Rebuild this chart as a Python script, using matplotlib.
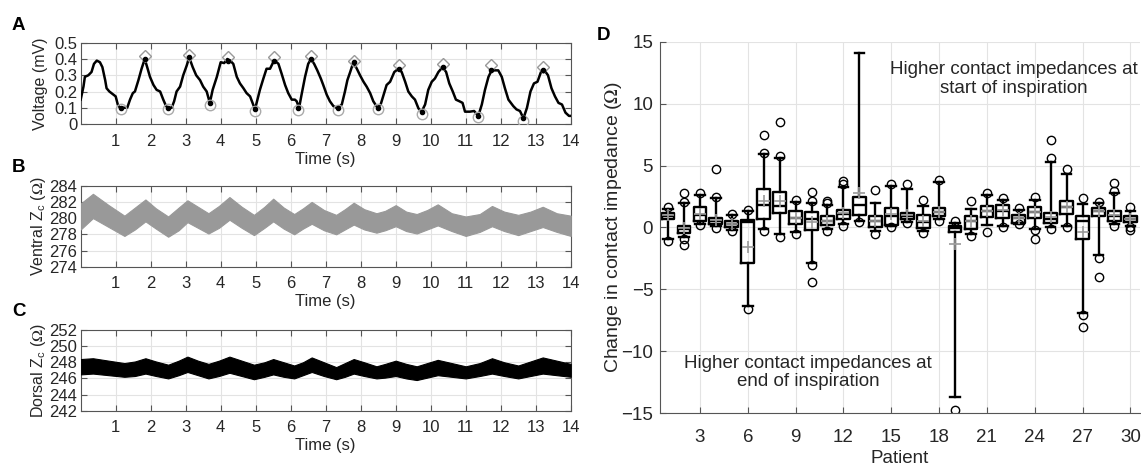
import matplotlib.pyplot as plt

plt.rcParams['font.family'] = ['Liberation Sans', 'DejaVu Sans']
plt.rcParams['mathtext.fontset'] = 'stix'

# ---- panel A: ECG-derived voltage (mV) ----
time_a = [0, 0.08, 0.12, 0.22, 0.31, 0.38, 0.46, 0.55, 0.62, 0.7,
          0.74, 0.82, 0.91, 1.0, 1.06, 1.12, 1.22, 1.33, 1.41, 1.49,
          1.55, 1.65, 1.74, 1.83, 1.9, 1.98, 2.08, 2.17, 2.27, 2.36,
          2.44, 2.5, 2.6, 2.67, 2.74, 2.84, 2.93, 3.03, 3.1, 3.2,
          3.3, 3.41, 3.5, 3.6, 3.69, 3.77, 3.89, 4.0, 4.1, 4.19,
          4.27, 4.36, 4.46, 4.55, 4.65, 4.74, 4.84, 4.91, 4.98, 5.05,
          5.12, 5.22, 5.31, 5.41, 5.5, 5.55, 5.65, 5.74, 5.84, 5.93,
          6.03, 6.12, 6.17, 6.24, 6.31, 6.41, 6.5, 6.58, 6.67, 6.76,
          6.86, 6.93, 7.03, 7.12, 7.22, 7.34, 7.46, 7.55, 7.62, 7.7,
          7.79, 7.89, 7.98, 8.08, 8.17, 8.27, 8.36, 8.48, 8.57, 8.67,
          8.74, 8.84, 8.96, 9.08, 9.17, 9.27, 9.36, 9.46, 9.55, 9.65,
          9.74, 9.84, 9.93, 10.03, 10.12, 10.22, 10.34, 10.44, 10.53, 10.63,
          10.72, 10.82, 10.91, 10.98, 11.12, 11.24, 11.36, 11.46, 11.55, 11.65,
          11.74, 11.83, 11.93, 12.03, 12.12, 12.22, 12.36, 12.45, 12.55, 12.65,
          12.75, 12.85, 12.95, 13.05, 13.15, 13.25, 13.35, 13.45, 13.55, 13.65,
          13.75, 13.85, 13.95, 14.0]
volt_a = [0.15, 0.23, 0.29, 0.30, 0.32, 0.37, 0.39, 0.38, 0.35, 0.27,
          0.22, 0.20, 0.185, 0.17, 0.12, 0.10, 0.10, 0.10, 0.15, 0.19,
          0.20, 0.27, 0.34, 0.40, 0.35, 0.29, 0.24, 0.21, 0.20, 0.15,
          0.11, 0.10, 0.10, 0.14, 0.20, 0.23, 0.30, 0.36, 0.41, 0.35,
          0.30, 0.27, 0.23, 0.20, 0.13, 0.21, 0.29, 0.38, 0.375, 0.40,
          0.39, 0.37, 0.29, 0.25, 0.22, 0.19, 0.17, 0.13, 0.09, 0.15,
          0.21, 0.28, 0.34, 0.34, 0.38, 0.39, 0.37, 0.31, 0.24, 0.19,
          0.15, 0.15, 0.14, 0.10, 0.18, 0.29, 0.37, 0.40, 0.37, 0.33,
          0.28, 0.24, 0.18, 0.14, 0.11, 0.096, 0.12, 0.20, 0.27, 0.32,
          0.38, 0.34, 0.30, 0.26, 0.23, 0.19, 0.14, 0.10, 0.12, 0.19,
          0.24, 0.26, 0.32, 0.34, 0.32, 0.26, 0.20, 0.17, 0.15, 0.096,
          0.076, 0.12, 0.21, 0.26, 0.28, 0.32, 0.35, 0.32, 0.25, 0.20,
          0.15, 0.14, 0.13, 0.076, 0.076, 0.08, 0.05, 0.12, 0.21, 0.29,
          0.33, 0.33, 0.33, 0.29, 0.22, 0.15, 0.11, 0.09, 0.08, 0.035,
          0.10, 0.20, 0.25, 0.26, 0.32, 0.33, 0.30, 0.22, 0.17, 0.13,
          0.12, 0.07, 0.05, 0.05]

peak_t = [1.83, 3.1, 4.22, 5.53, 6.58, 7.8, 9.08, 10.34, 11.72, 13.22]
peak_mark = [0.42, 0.425, 0.41, 0.41, 0.42, 0.39, 0.36, 0.37, 0.36, 0.35]
peak_dot = [0.40, 0.41, 0.39, 0.39, 0.40, 0.38, 0.34, 0.35, 0.33, 0.33]
trough_t = [1.15, 2.5, 3.69, 4.98, 6.22, 7.34, 8.48, 9.74, 11.36, 12.65]
trough_mark = [0.09, 0.09, 0.12, 0.08, 0.086, 0.086, 0.09, 0.06, 0.045, 0.02]
trough_dot = [0.10, 0.10, 0.13, 0.09, 0.10, 0.096, 0.10, 0.076, 0.05, 0.035]

# ---- panels B, C: contact impedance envelopes (Ohm) ----
time_z = [0, 0.35, 0.8, 1.25, 1.55, 1.85, 2.15, 2.5, 2.8, 3.05,
          3.35, 3.65, 3.95, 4.25, 4.6, 4.95, 5.25, 5.5, 5.8, 6.1,
          6.35, 6.6, 6.95, 7.3, 7.55, 7.8, 8.1, 8.45, 8.7, 9.0,
          9.3, 9.6, 9.9, 10.2, 10.6, 11.0, 11.4, 11.75, 12.1, 12.5,
          12.85, 13.2, 13.6, 14.0]
ventral_hi = [281.8, 283.0, 281.6, 280.3, 281.3, 282.3, 281.2, 280.2, 281.3, 282.2,
              281.4, 280.6, 281.5, 282.6, 281.4, 280.4, 281.4, 282.4, 281.3, 280.5,
              281.2, 282.0, 281.0, 280.4, 281.1, 281.9, 281.1, 280.6, 280.9, 281.6,
              280.8, 280.5, 281.0, 281.7, 280.6, 280.2, 280.5, 281.5, 280.8, 280.4,
              280.8, 281.4, 280.6, 280.3]
ventral_lo = [278.6, 280.0, 278.9, 277.8, 278.6, 279.6, 278.7, 277.7, 278.5, 279.5,
              278.8, 278.1, 278.8, 279.8, 278.8, 277.9, 278.8, 279.6, 278.7, 278.0,
              278.7, 279.3, 278.5, 278.0, 278.6, 279.2, 278.6, 278.2, 278.5, 279.0,
              278.4, 278.1, 278.6, 279.1, 278.4, 277.8, 278.3, 279.0, 278.4, 277.9,
              278.4, 278.9, 278.3, 277.8]
dorsal_hi = [248.4, 248.5, 248.2, 247.9, 248.1, 248.5, 248.1, 247.7, 248.2, 248.7,
             248.2, 247.8, 248.2, 248.7, 248.2, 247.7, 248.0, 248.4, 248.0, 247.6,
             248.0, 248.6, 248.0, 247.4, 247.9, 248.4, 248.0, 247.5, 247.8, 248.2,
             247.8, 247.5, 247.9, 248.3, 247.9, 247.5, 247.9, 248.5, 248.0, 247.6,
             248.1, 248.6, 248.2, 247.8]
dorsal_lo = [246.5, 246.6, 246.4, 246.2, 246.3, 246.6, 246.3, 246.0, 246.4, 246.8,
             246.4, 246.0, 246.3, 246.7, 246.3, 245.9, 246.2, 246.5, 246.2, 246.0,
             246.4, 246.8, 246.3, 245.9, 246.2, 246.6, 246.3, 246.0, 246.1, 246.3,
             246.0, 245.8, 246.1, 246.4, 246.2, 246.0, 246.3, 246.6, 246.3, 246.0,
             246.3, 246.6, 246.4, 246.2]

# ---- panel D: per-patient box statistics (Ohm) ----
patients = list(range(1, 31))
q1 = [0.66, -0.47, 0.55, 0.30, 0.07, -2.85, 0.70, 1.20, 0.30, -0.20,
      0.20, 0.66, 1.00, 0.02, 0.20, 0.70, -0.05, 0.90, -0.35, -0.15,
      0.85, 0.75, 0.40, 0.75, 0.35, 1.05, -0.95, 0.95, 0.55, 0.45]
median = [0.96, -0.15, 1.00, 0.55, 0.30, 0.45, 1.80, 1.70, 0.75, 0.65,
          0.55, 1.10, 1.80, 0.50, 0.90, 0.95, 0.45, 1.25, -0.05, 0.50,
          1.30, 1.30, 0.75, 1.25, 0.70, 1.65, 0.55, 1.35, 0.95, 0.70]
q3 = [1.20, 0.12, 1.65, 0.78, 0.55, 0.58, 3.10, 2.85, 1.30, 1.25,
      0.95, 1.45, 2.45, 0.93, 1.55, 1.20, 1.00, 1.55, 0.12, 0.95,
      1.70, 1.85, 1.00, 1.65, 1.15, 2.10, 0.95, 1.60, 1.30, 0.93]
mean = [1.00, -0.05, 1.10, 0.60, 0.30, -1.55, 2.10, 2.10, 0.80, 0.45,
        0.55, 1.15, 2.75, 0.55, 1.10, 1.00, 0.55, 1.25, -1.30, 0.55,
        1.35, 1.40, 0.80, 1.25, 0.85, 1.65, -0.35, 1.30, 1.00, 0.70]
whisk_lo = [-0.95, -0.80, 0.30, 0.15, -0.20, -6.35, -0.10, -0.50, -0.35, -2.90,
            -0.15, 0.25, 0.55, -0.30, 0.15, 0.45, -0.30, 0.65, -13.70, -0.50,
            0.20, 0.15, 0.30, -0.10, 0.05, 0.10, -6.90, -2.20, 0.25, 0.10]
whisk_hi = [1.50, 1.95, 2.65, 2.35, 0.98, 1.30, 5.90, 5.60, 2.05, 2.00,
            1.80, 3.30, 14.10, 1.95, 3.35, 3.10, 1.70, 3.65, 0.40, 1.50,
            2.65, 2.20, 1.40, 2.25, 5.30, 4.35, 1.90, 1.95, 2.80, 1.30]
outliers = [[1.62, -1.08], [2.05, 2.78, -0.95, -1.40], [2.80, 0.20], [2.50, 4.70, -0.05],
            [1.08, -0.30], [1.42, -6.60], [6.05, 7.47, -0.25], [5.80, 8.55, -0.75],
            [2.20, -0.50], [2.15, 2.85, -3.05, -4.40], [1.95, 2.17, -0.28],
            [3.55, 3.78, 0.15], [0.45], [3.05, -0.50], [3.55, 0.05], [3.50, 0.35],
            [2.20, -0.45], [3.80, 0.55], [0.50, -14.75], [2.10, -0.65], [2.80, -0.35],
            [2.35, 0.02], [1.60, 0.25], [2.50, -0.20, -0.95], [5.60, 7.10, -0.10],
            [4.70, 0.02], [2.35, -7.10, -8.05], [2.08, -2.50, -4.00],
            [2.95, 3.60, 0.15], [1.65, 0.05, -0.20]]

TXT = '#262626'
SPINE = '#555555'
GRID = '#e3e3e3'

fig = plt.figure(figsize=(11.41, 4.68), dpi=100)
axA = fig.add_axes([0.0707, 0.735, 0.4295, 0.1737])
axB = fig.add_axes([0.0707, 0.4301, 0.4295, 0.1731])
axC = fig.add_axes([0.0707, 0.1224, 0.4295, 0.1725])
axD = fig.add_axes([0.5785, 0.1169, 0.4206, 0.794])


def style_trace(ax, ylim, yticks, ylabel):
    ax.set_xlim(0, 14)
    ax.set_ylim(ylim)
    ax.set_xticks(range(1, 15))
    ax.set_yticks(yticks)
    ax.grid(True, color=GRID, linewidth=0.8)
    ax.set_axisbelow(True)
    ax.tick_params(direction='in', top=True, right=True, length=4,
                   color=SPINE, labelcolor=TXT, labelsize=12)
    ax.tick_params(axis='x', pad=7)
    ax.tick_params(axis='y', pad=2.5)
    for s in ax.spines.values():
        s.set_color(SPINE)
    ax.set_xlabel('Time (s)', fontsize=12, color=TXT, labelpad=2)
    ax.set_ylabel(ylabel, fontsize=11.5, color=TXT)
    ax.yaxis.set_label_coords(-0.066, 0.5)


axA.plot(time_a, volt_a, color='black', linewidth=1.8, zorder=3)
axA.plot(peak_t, peak_mark, linestyle='none', marker='D', markersize=6.5,
         markerfacecolor='none', markeredgecolor='#999999', zorder=4)
axA.plot(trough_t, trough_mark, linestyle='none', marker='o', markersize=7.5,
         markerfacecolor='none', markeredgecolor='#aaaaaa', zorder=4)
axA.plot(peak_t + trough_t, peak_dot + trough_dot, linestyle='none', marker='o',
         markersize=3, color='black', zorder=5)
style_trace(axA, (0, 0.5), [0, 0.1, 0.2, 0.3, 0.4, 0.5], 'Voltage (mV)')
axA.set_yticklabels(['0', '0.1', '0.2', '0.3', '0.4', '0.5'])

axB.fill_between(time_z, ventral_lo, ventral_hi, color='#999999', linewidth=0.8,
                 edgecolor='#999999', zorder=3)
style_trace(axB, (274, 284), range(274, 285, 2), r'Ventral Z$_\mathregular{c}$ ($\Omega$)')

axC.fill_between(time_z, dorsal_lo, dorsal_hi, color='black', linewidth=0.8,
                 edgecolor='black', zorder=3)
style_trace(axC, (242, 252), range(242, 253, 2), r'Dorsal Z$_\mathregular{c}$ ($\Omega$)')

# ---- D ----
stats = []
for i in range(len(patients)):
    stats.append(dict(q1=q1[i], med=median[i], q3=q3[i], mean=mean[i],
                      whislo=whisk_lo[i], whishi=whisk_hi[i], fliers=outliers[i]))

lw = 1.7
axD.bxp(stats, positions=patients, widths=0.8, capwidths=0.6, showmeans=True,
        boxprops=dict(color='black', linewidth=lw),
        medianprops=dict(color='black', linewidth=lw),
        whiskerprops=dict(color='black', linewidth=lw),
        capprops=dict(color='black', linewidth=lw),
        flierprops=dict(marker='o', markerfacecolor='none', markeredgecolor='black',
                        markersize=6, markeredgewidth=1.0),
        meanprops=dict(marker='+', markeredgecolor='#999999', markersize=9,
                       markeredgewidth=1.2))
axD.set_xlim(0.5, 30.6)
axD.set_ylim(-15, 15)
axD.set_xticks(range(3, 31, 3))
axD.set_xticklabels([str(p) for p in range(3, 31, 3)])
axD.set_yticks(range(-15, 16, 5))
axD.grid(True, color=GRID, linewidth=0.8)
axD.set_axisbelow(True)
axD.spines['top'].set_visible(False)
axD.spines['right'].set_visible(False)
axD.spines['left'].set_color(SPINE)
axD.spines['bottom'].set_color(SPINE)
axD.tick_params(direction='in', length=4, color=SPINE, labelcolor=TXT, labelsize=13.5)
axD.tick_params(axis='x', pad=11)
axD.tick_params(axis='y', pad=5)
axD.set_xlabel('Patient', fontsize=13.5, color=TXT, labelpad=3)
axD.set_ylabel(r'Change in contact impedance ($\Omega$)', fontsize=14, color=TXT)
axD.yaxis.set_label_coords(-0.075, 0.5)
axD.text(22.7, 12.0, 'Higher contact impedances at\nstart of inspiration',
         ha='center', va='center', fontsize=13.5, color=TXT, linespacing=1.12)
axD.text(9.77, -11.7, 'Higher contact impedances at\nend of inspiration',
         ha='center', va='center', fontsize=13.5, color=TXT, linespacing=1.12)

for letter, x, y in [('A', 12, 25), ('B', 12, 167), ('C', 12, 312), ('D', 597, 36)]:
    fig.text(x / 1141, 1 - y / 468, letter, fontsize=13.5, fontweight='bold',
             ha='left', va='center')

fig.savefig('out.png', dpi=100)
